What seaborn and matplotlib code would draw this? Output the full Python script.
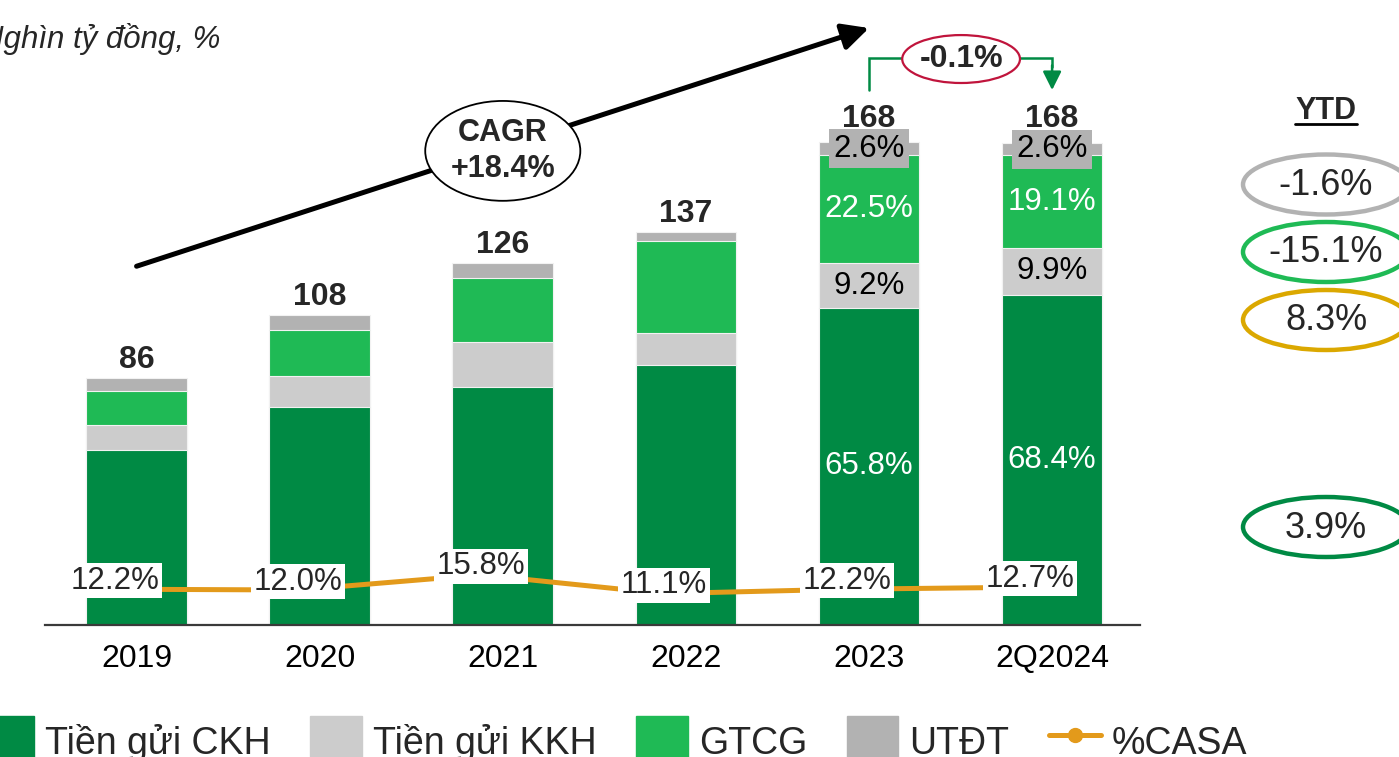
import matplotlib
matplotlib.use("Agg")
import matplotlib.pyplot as plt
import seaborn as sns
import numpy as np
import pandas as pd
from matplotlib.patches import Ellipse, Patch
from matplotlib.lines import Line2D

# data (nghìn tỷ đồng)
years = ["2019", "2020", "2021", "2022", "2023", "2Q2024"]
totals = [86, 108, 126, 137, 168, 168]
ckh = [61.0, 76.1, 83.0, 90.5, 110.5, 114.9]     # Tiền gửi CKH
kkh = [8.7, 10.8, 15.6, 11.3, 15.5, 16.6]        # Tiền gửi KKH
gtcg = [11.7, 16.0, 22.4, 32.0, 37.8, 32.1]      # GTCG
utdt = [4.6, 5.1, 5.0, 3.2, 4.4, 4.4]            # UTĐT
casa = [12.2, 12.0, 15.8, 11.1, 12.2, 12.7]      # %CASA
share_labels = {4: ["65.8%", "9.2%", "22.5%", "2.6%"],
                5: ["68.4%", "9.9%", "19.1%", "2.6%"]}
ytd_labels = ["-1.6%", "-15.1%", "8.3%", "3.9%"]
series_names = ["Tiền gửi CKH", "Tiền gửi KKH", "GTCG", "UTĐT", "%CASA"]

C_CKH = "#008A44"
C_KKH = "#CCCCCC"
C_GTCG = "#1FBA55"
C_UTDT = "#B2B2B2"
C_CASA = "#E39A1B"
C_GOLD = "#DBA800"
C_RED = "#C0143C"

sns.set_theme(style="white")
plt.rcParams['font.family'] = ['Liberation Sans', 'DejaVu Sans']

W, H = 1399, 757
fig = plt.figure(figsize=(W / 100, H / 100), dpi=100)

# main axes: baseline at y=625 px, 2.87 px per unit
ax = fig.add_axes([45 / W, 1 - 625 / H, (1140 - 45) / W, 625 / H])
ax.patch.set_alpha(0)

df = pd.DataFrame({"year": years, "ckh": ckh, "kkh": kkh, "gtcg": gtcg, "utdt": utdt})
df["c1"] = df["ckh"]
df["c2"] = df["c1"] + df["kkh"]
df["c3"] = df["c2"] + df["gtcg"]
df["c4"] = df["c3"] + df["utdt"]

# stacked bars drawn as overlapping cumulative bars
for col, color in [("c4", C_UTDT), ("c3", C_GTCG), ("c2", C_KKH), ("c1", C_CKH)]:
    sns.barplot(data=df, x="year", y=col, color=color, width=0.55, ax=ax,
                saturation=1, edgecolor="#F2F2F2", linewidth=0.8)

ax.set_xlim(-0.5, 5.48)
ax.set_ylim(0, 625 / 2.87)
ax.set_xlabel("")
ax.set_ylabel("")
ax.set_yticks([])
for s in ["left", "right", "top"]:
    ax.spines[s].set_visible(False)
ax.spines["bottom"].set_color("#3A3A3A")
ax.spines["bottom"].set_linewidth(1.6)
ax.tick_params(axis="x", length=0, pad=14, labelsize=23, colors="black")

# totals
for i, t in enumerate(totals):
    off = 17 if i in share_labels else 13
    ax.annotate(str(t), (i, df["c4"][i]), xytext=(0, off), textcoords="offset points",
                ha="center", va="center", fontsize=23, fontweight="bold")

# share labels inside bars
for i, labs in share_labels.items():
    bottoms = [0, df["c1"][i], df["c2"][i], df["c3"][i]]
    tops = [df["c1"][i], df["c2"][i], df["c3"][i], df["c4"][i]]
    colors = ["white", "black", "white", "black"]
    for k in range(4):
        kw = {}
        if k == 3:
            kw["bbox"] = dict(boxstyle="square,pad=0.14", fc=C_UTDT, ec="none")
        ax.text(i, (bottoms[k] + tops[k]) / 2, labs[k], ha="center", va="center",
                fontsize=22.5, color=colors[k], **kw)

# %CASA line on a secondary axis
ax2 = ax.twinx()
ax2.set_ylim(12.5 - 37 / 4, 12.5 - 37 / 4 + 625 / 4)
ax2.set_yticks([])
ax2.axis("off")
xpos = np.arange(len(years)) - 0.12
sns.lineplot(x=xpos, y=casa, ax=ax2, color=C_CASA, lw=3.6, marker="o",
             markersize=9, markeredgecolor=C_CASA)
for x, v in zip(xpos, casa):
    ax2.annotate(f"{v:.1f}%", (x, v), xytext=(0, 6), textcoords="offset points",
                 ha="center", va="center", fontsize=22.5, zorder=5,
                 bbox=dict(boxstyle="square,pad=0.08", fc="white", ec="none"))

# CAGR arrow and bubble
ax.annotate("", xy=(4.0, 208), xytext=(0.0, 125), annotation_clip=False,
            arrowprops=dict(arrowstyle="-|>", lw=3.6, color="black", mutation_scale=40,
                            shrinkA=0, shrinkB=0))
ax.add_patch(Ellipse((2.0, 165.2), 0.847, 34.8, fc="white", ec="black", lw=1.3,
                     zorder=4, clip_on=False))
ax.text(2.0, 165.2, "CAGR\n+18.4%", ha="center", va="center", fontsize=22,
        fontweight="bold", zorder=5, linespacing=1.25)

# -0.1% bracket between 2023 and 2Q2024
ax.plot([4.0, 4.0, 5.0, 5.0], [186.4, 197.7, 197.7, 194.5], color=C_CKH, lw=1.8,
        clip_on=False, solid_joinstyle="miter")
ax.annotate("", xy=(5.0, 186.4), xytext=(5.0, 195), annotation_clip=False,
            arrowprops=dict(arrowstyle="-|>", lw=1.8, color=C_CKH, mutation_scale=28,
                            shrinkA=0, shrinkB=0))
ax.add_patch(Ellipse((4.503, 197.2), 0.643, 16.7, fc="white", ec=C_RED, lw=1.6,
                     zorder=4, clip_on=False))
ax.text(4.503, 197.2, "-0.1%", ha="center", va="center", fontsize=23,
        fontweight="bold", zorder=5)

# overlay in pixel coordinates for side notes
ov = fig.add_axes([0, 0, 1, 1])
ov.set_xlim(0, W)
ov.set_ylim(H, 0)
ov.axis("off")
ov.patch.set_alpha(0)

ov.text(-19, 48, "Nghìn tỷ đồng, %", ha="left", va="baseline", fontsize=22.5,
        style="italic")

ov.text(1326, 111, "YTD", ha="center", va="center", fontsize=22, fontweight="bold")
ov.plot([1295, 1357], [124, 124], color="black", lw=2)
ytd_y = [184.5, 252, 320, 527]
ytd_colors = [C_UTDT, C_GTCG, C_GOLD, C_CKH]
for y, lab, c in zip(ytd_y, ytd_labels, ytd_colors):
    ov.add_patch(Ellipse((1326, y), 166, 60, fill=False, ec=c, lw=3.2))
    ov.text(1326, y + 1, lab, ha="center", va="center", fontsize=26)

# legend
handles = [Patch(color=C_CKH), Patch(color=C_KKH), Patch(color=C_GTCG), Patch(color=C_UTDT),
           Line2D([0], [0], color=C_CASA, lw=3.6, marker="o", markersize=10)]
fig.legend(handles, series_names, loc="center left", bbox_to_anchor=(-18 / W, 15 / H),
           ncol=5, frameon=False, fontsize=27, handlelength=1.38, handleheight=1.72,
           handletextpad=0.3, columnspacing=1.05, borderaxespad=0, borderpad=0)

fig.savefig("out.png", dpi=100)
